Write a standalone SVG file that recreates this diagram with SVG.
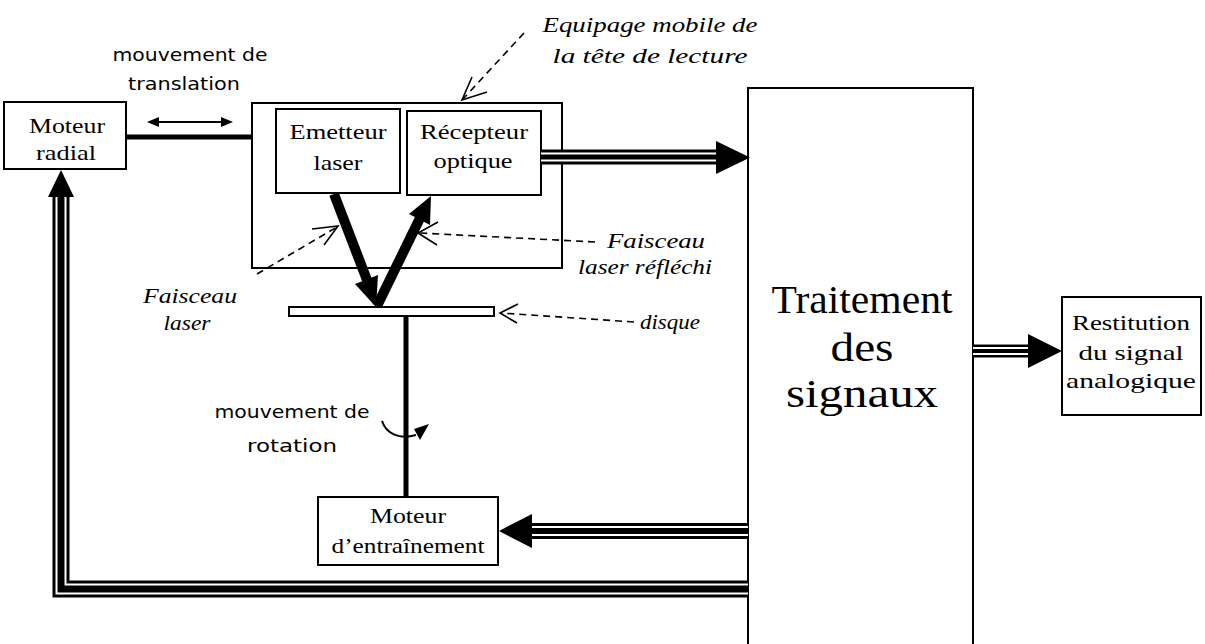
<svg xmlns="http://www.w3.org/2000/svg" width="1205" height="644" viewBox="0 0 1205 644">
<style>
.box{fill:#fff;stroke:#000;stroke-width:2}
.lbl{font-family:"Liberation Serif","Times New Roman",serif;font-size:22px;fill:#000;text-anchor:middle}
.big{font-family:"Liberation Serif","Times New Roman",serif;font-size:41px;fill:#000;text-anchor:middle}
.it{font-family:"Liberation Serif","Times New Roman",serif;font-style:italic;font-size:22px;fill:#000;text-anchor:middle}
.cm{font-family:"Comic Sans MS","DejaVu Sans",sans-serif;font-size:17px;fill:#000;text-anchor:middle}
.dash{fill:none;stroke:#000;stroke-width:1.6;stroke-dasharray:7 5}
.vee{fill:none;stroke:#000;stroke-width:1.6}
.o{fill:none;stroke:#000;stroke-linejoin:miter}
.w{fill:none;stroke:#fff;stroke-linejoin:miter}
.head{fill:#000;stroke:none}
.solid{fill:none;stroke:#000}
</style>
<defs>
<path id="p1" d="M541,157 H720"/>
<path id="p2" d="M973,351 H1031"/>
<path id="p3" d="M748,531 H529"/>
<path id="p4" d="M748,589 H61 V194"/>
</defs>
<rect width="1205" height="644" fill="#fff"/>

<g id="moteur-radial">
  <rect class="box" x="4" y="102" width="122" height="67"/>
  <text class="lbl" x="67" y="133" textLength="76" lengthAdjust="spacingAndGlyphs">Moteur</text>
  <text class="lbl" x="66" y="160" textLength="60" lengthAdjust="spacingAndGlyphs">radial</text>
</g>

<g id="equipage">
  <rect class="box" x="252" y="103" width="310" height="165"/>
</g>

<g id="emetteur">
  <rect class="box" x="276" y="109" width="124" height="84"/>
  <text class="lbl" x="338" y="139" textLength="97" lengthAdjust="spacingAndGlyphs">Emetteur</text>
  <text class="lbl" x="338" y="170" textLength="49" lengthAdjust="spacingAndGlyphs">laser</text>
</g>

<g id="recepteur">
  <rect class="box" x="407" y="111" width="134" height="84"/>
  <text class="lbl" x="474" y="139" textLength="108" lengthAdjust="spacingAndGlyphs">Récepteur</text>
  <text class="lbl" x="473" y="168" textLength="79" lengthAdjust="spacingAndGlyphs">optique</text>
</g>

<g id="disque">
  <rect fill="#fff" stroke="#000" stroke-width="2" x="289" y="307" width="205" height="9"/>
</g>

<g id="moteur-entrainement">
  <rect class="box" x="318" y="497" width="180" height="68"/>
  <text class="lbl" x="408" y="523" textLength="76" lengthAdjust="spacingAndGlyphs">Moteur</text>
  <text class="lbl" x="408" y="553" textLength="153" lengthAdjust="spacingAndGlyphs">d’entraînement</text>
</g>

<g id="traitement">
  <rect class="box" x="748" y="88" width="225" height="570"/>
  <text class="big" x="862" y="313" textLength="181" lengthAdjust="spacingAndGlyphs">Traitement</text>
  <text class="big" x="862" y="361" textLength="63" lengthAdjust="spacingAndGlyphs">des</text>
  <text class="big" x="862" y="407" textLength="152" lengthAdjust="spacingAndGlyphs">signaux</text>
</g>

<g id="restitution">
  <rect class="box" x="1062" y="297" width="139" height="118"/>
  <text class="lbl" x="1131" y="330" textLength="118" lengthAdjust="spacingAndGlyphs">Restitution</text>
  <text class="lbl" x="1131" y="360" textLength="105" lengthAdjust="spacingAndGlyphs">du signal</text>
  <text class="lbl" x="1131" y="388" textLength="130" lengthAdjust="spacingAndGlyphs">analogique</text>
</g>

<g id="connectors">
  <!-- triple line connectors -->
  <use href="#p1" class="o" stroke-width="15"/><use href="#p1" class="w" stroke-width="9"/><use href="#p1" class="o" stroke-width="5"/>
  <polygon class="head" points="716,141 716,174 750,157.5"/>
  <use href="#p2" class="o" stroke-width="13"/><use href="#p2" class="w" stroke-width="8"/><use href="#p2" class="o" stroke-width="4"/>
  <polygon class="head" points="1028,334 1028,368 1062,351"/>
  <use href="#p3" class="o" stroke-width="16"/><use href="#p3" class="w" stroke-width="10"/><use href="#p3" class="o" stroke-width="6"/>
  <polygon class="head" points="532,514 532,548 499,531"/>
  <use href="#p4" class="o" stroke-width="17"/><use href="#p4" class="w" stroke-width="11"/><use href="#p4" class="o" stroke-width="7"/>
  <polygon class="head" points="48,197 74,197 61,170"/>
  <!-- mechanical links -->
  <path class="solid" stroke-width="5" d="M126,137 H252"/>
  <path class="solid" stroke-width="5" d="M406,317 V497"/>
  <!-- translation double arrow -->
  <path class="solid" stroke-width="2" d="M156,122 H224"/>
  <polygon class="head" points="147,122 159,117 159,127"/>
  <polygon class="head" points="233,122 221,117 221,127"/>
  <!-- rotation arrow -->
  <path class="solid" stroke-width="2" d="M382,421 C386,433 398,440 416,435"/>
  <polygon class="head" points="429,424 414,429 420,440"/>
  <!-- laser beams -->
  <path class="solid" stroke-width="10" d="M334,194 L367,280"/>
  <polygon class="head" points="378,275 355,284 376,307"/>
  <path class="solid" stroke-width="10" d="M377,306 L421,216"/>
  <polygon class="head" points="431,196 409,214 430,225"/>
  <!-- dashed leaders -->
  <path class="dash" d="M524,33 L463,99"/>
  <path class="vee" d="M472,77 L462,100 L487,92"/>
  <path class="dash" d="M257,274 L337,227"/>
  <path class="vee" d="M312,229 L338,226 L324,245"/>
  <path class="dash" d="M595,242 L420,233"/>
  <path class="vee" d="M438,222 L418,233 L437,245"/>
  <path class="dash" d="M634,322 L501,313"/>
  <path class="vee" d="M518,304 L500,313 L517,323"/>
</g>

<g id="labels">
  <text class="cm" x="190" y="61" textLength="155" lengthAdjust="spacingAndGlyphs">mouvement de</text>
  <text class="cm" x="184" y="90" textLength="112" lengthAdjust="spacingAndGlyphs">translation</text>
  <text class="cm" x="292" y="418" textLength="155" lengthAdjust="spacingAndGlyphs">mouvement de</text>
  <text class="cm" x="292" y="452" textLength="90" lengthAdjust="spacingAndGlyphs">rotation</text>
  <text class="it" x="650" y="32" textLength="215" lengthAdjust="spacingAndGlyphs">Equipage mobile de</text>
  <text class="it" x="650" y="63" textLength="195" lengthAdjust="spacingAndGlyphs">la tête de lecture</text>
  <text class="it" x="656" y="248" textLength="98" lengthAdjust="spacingAndGlyphs">Faisceau</text>
  <text class="it" x="645" y="274" textLength="134" lengthAdjust="spacingAndGlyphs">laser réfléchi</text>
  <text class="it" x="190" y="303" textLength="94" lengthAdjust="spacingAndGlyphs">Faisceau</text>
  <text class="it" x="187" y="330" textLength="47" lengthAdjust="spacingAndGlyphs">laser</text>
  <text class="it" x="670" y="329" textLength="60" lengthAdjust="spacingAndGlyphs">disque</text>
</g>
</svg>
